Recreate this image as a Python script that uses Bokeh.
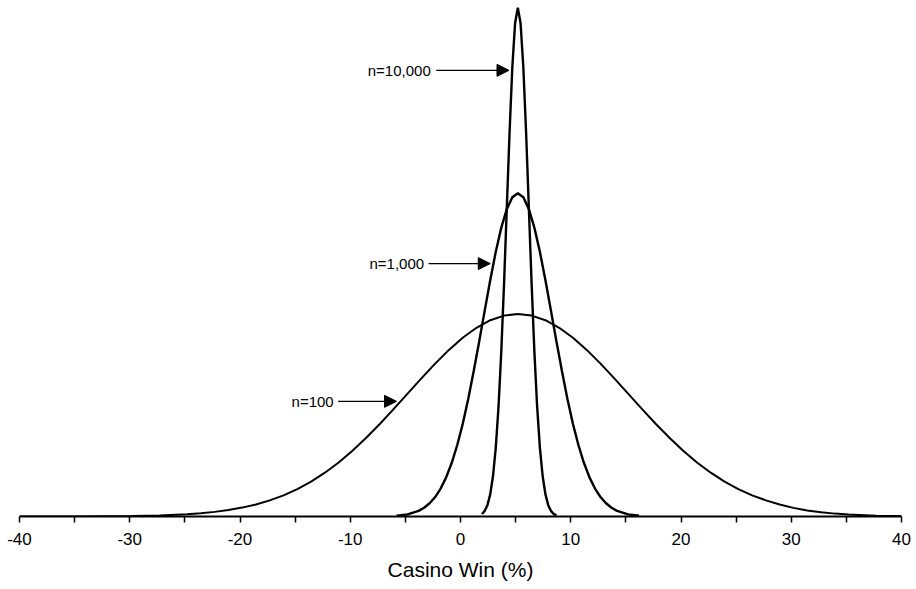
from bokeh.plotting import figure
from bokeh.models import Range1d, FixedTicker, Label, Arrow, NormalHead
from bokeh.embed import file_html
from bokeh.resources import INLINE

# ---- data (relative height, x in %) ----
x_n100 = [-40, -34.8, -29.8, -27.3, -24.8, -23.55, -22.3, -21.05, -19.8, -18.55, -17.3,
          -16.05, -14.8, -13.55, -12.3, -11.05, -9.8, -8.55, -7.3, -6.05, -4.8, -3.55,
          -2.3, -1.05, 0.2, 1.45, 2.7, 3.95, 5.2, 6.45, 7.7, 8.95, 10.2, 11.45, 12.7,
          13.95, 15.2, 16.45, 17.7, 18.95, 20.2, 21.45, 22.7, 23.95, 25.2, 26.45, 27.7,
          28.95, 30.2, 31.45, 32.7, 33.95, 35.2, 37.7, 40]
y_n100 = [0.0000, 0.0001, 0.0009, 0.0020, 0.0044, 0.0063, 0.0090, 0.0126, 0.0173, 0.0235, 0.0314,
          0.0412, 0.0533, 0.0679, 0.0852, 0.1052, 0.1279, 0.1531, 0.1804, 0.2093, 0.2390, 0.2687,
          0.2974, 0.3241, 0.3477, 0.3672, 0.3819, 0.3909, 0.3940, 0.3909, 0.3819, 0.3672, 0.3477,
          0.3241, 0.2974, 0.2687, 0.2390, 0.2093, 0.1804, 0.1531, 0.1279, 0.1052, 0.0852, 0.0679,
          0.0533, 0.0412, 0.0314, 0.0235, 0.0168, 0.0118, 0.0082, 0.0056, 0.0038, 0.0017, 0.0008]

x_n1000 = [-5.8, -4.8, -3.8, -3.3, -2.8, -2.3, -1.8, -1.3, -0.8, -0.3, 0.2, 0.7, 1.2, 1.7,
           2.2, 2.7, 3.2, 3.7, 4.2, 4.7, 5.2, 5.7, 6.2, 6.7, 7.2, 7.7, 8.2, 8.7, 9.2,
           9.7, 10.2, 10.7, 11.2, 11.7, 12.2, 12.7, 13.2, 13.7, 14.2, 15.2, 16.2]
y_n1000 = [0.0015, 0.0042, 0.0110, 0.0170, 0.0257, 0.0378, 0.0543, 0.0761, 0.1040, 0.1386, 0.1800,
           0.2285, 0.2830, 0.3410, 0.4010, 0.4600, 0.5150, 0.5620, 0.5980, 0.6210, 0.6290,
           0.6210, 0.5980, 0.5620, 0.5150, 0.4600, 0.4010, 0.3410, 0.2830, 0.2285, 0.1800,
           0.1386, 0.1040, 0.0761, 0.0543, 0.0378, 0.0257, 0.0170, 0.0110, 0.0042, 0.0015]

x_n10000 = [1.95, 2.2, 2.45, 2.7, 2.95, 3.2, 3.45, 3.7, 3.95, 4.2, 4.45, 4.7, 4.95, 5.2,
            5.45, 5.7, 5.95, 6.2, 6.45, 6.7, 6.95, 7.2, 7.45, 7.7, 7.95, 8.2, 8.45, 8.7]
y_n10000 = [0.0050, 0.0110, 0.0226, 0.0435, 0.0788, 0.1340, 0.2141, 0.3214, 0.4532, 0.6005,
            0.7472, 0.8737, 0.9595, 0.9900, 0.9595, 0.8737, 0.7472, 0.6005, 0.4532, 0.3214,
            0.2141, 0.1340, 0.0788, 0.0435, 0.0226, 0.0110, 0.0050, 0.0022]

x_ticks = [-40, -30, -20, -10, 0, 10, 20, 30, 40]
x_tick_labels = ["-40", "-30", "-20", "-10", "0", "10", "20", "30", "40"]
axis_title = "Casino Win (%)"

# annotations: label, text end x, arrow start x, arrow end x, y
ann_labels = ["n=10,000", "n=1,000", "n=100"]
ann_text_x = [-2.7, -3.3, -11.5]
ann_arrow_x0 = [-2.2, -2.9, -11.1]
ann_arrow_x1 = [4.4, 2.7, -5.8]
ann_y = [0.868, 0.492, 0.224]

FONT = "Liberation Sans"

p = figure(width=912, height=588, output_backend="svg", toolbar_location=None,
           x_range=Range1d(-40, 40), y_range=Range1d(0, 1.0),
           min_border_left=19, min_border_right=11, min_border_top=2, min_border_bottom=72)

p.line(x_n100, y_n100, line_color="black", line_width=2.0)
p.line(x_n1000, y_n1000, line_color="black", line_width=2.4)
p.line(x_n10000, y_n10000, line_color="black", line_width=2.4)

for lab, tx, ax0, ax1, yy in zip(ann_labels, ann_text_x, ann_arrow_x0, ann_arrow_x1, ann_y):
    p.add_layout(Label(x=tx, y=yy, text=lab, text_align="right", text_baseline="middle",
                       text_font=FONT, text_font_size="15px", text_color="black"))
    p.add_layout(Arrow(x_start=ax0, y_start=yy, x_end=ax1, y_end=yy, line_width=1.3,
                       line_color="black",
                       end=NormalHead(size=12, fill_color="black", line_color="black")))

p.xgrid.visible = False
p.ygrid.visible = False
p.yaxis.visible = False
p.outline_line_color = None

ax = p.xaxis[0]
ax.ticker = FixedTicker(ticks=x_ticks, minor_ticks=[v + 5 for v in x_ticks[:-1]])
ax.major_label_overrides = {t: s for t, s in zip(x_ticks, x_tick_labels)}
ax.axis_line_width = 2
ax.axis_line_color = "black"
ax.major_tick_line_color = "black"
ax.major_tick_line_width = 1.5
ax.minor_tick_line_color = "black"
ax.minor_tick_line_width = 1.5
ax.major_tick_in = 0
ax.major_tick_out = 6
ax.minor_tick_in = 0
ax.minor_tick_out = 6
ax.major_label_text_font = FONT
ax.major_label_text_font_size = "17px"
ax.major_label_text_color = "black"
ax.major_label_standoff = 10
ax.axis_label = axis_title
ax.axis_label_text_font = FONT
ax.axis_label_text_font_size = "21px"
ax.axis_label_text_font_style = "normal"
ax.axis_label_text_color = "black"
ax.axis_label_standoff = 10

open("out.html", "w").write(file_html(p, INLINE))
